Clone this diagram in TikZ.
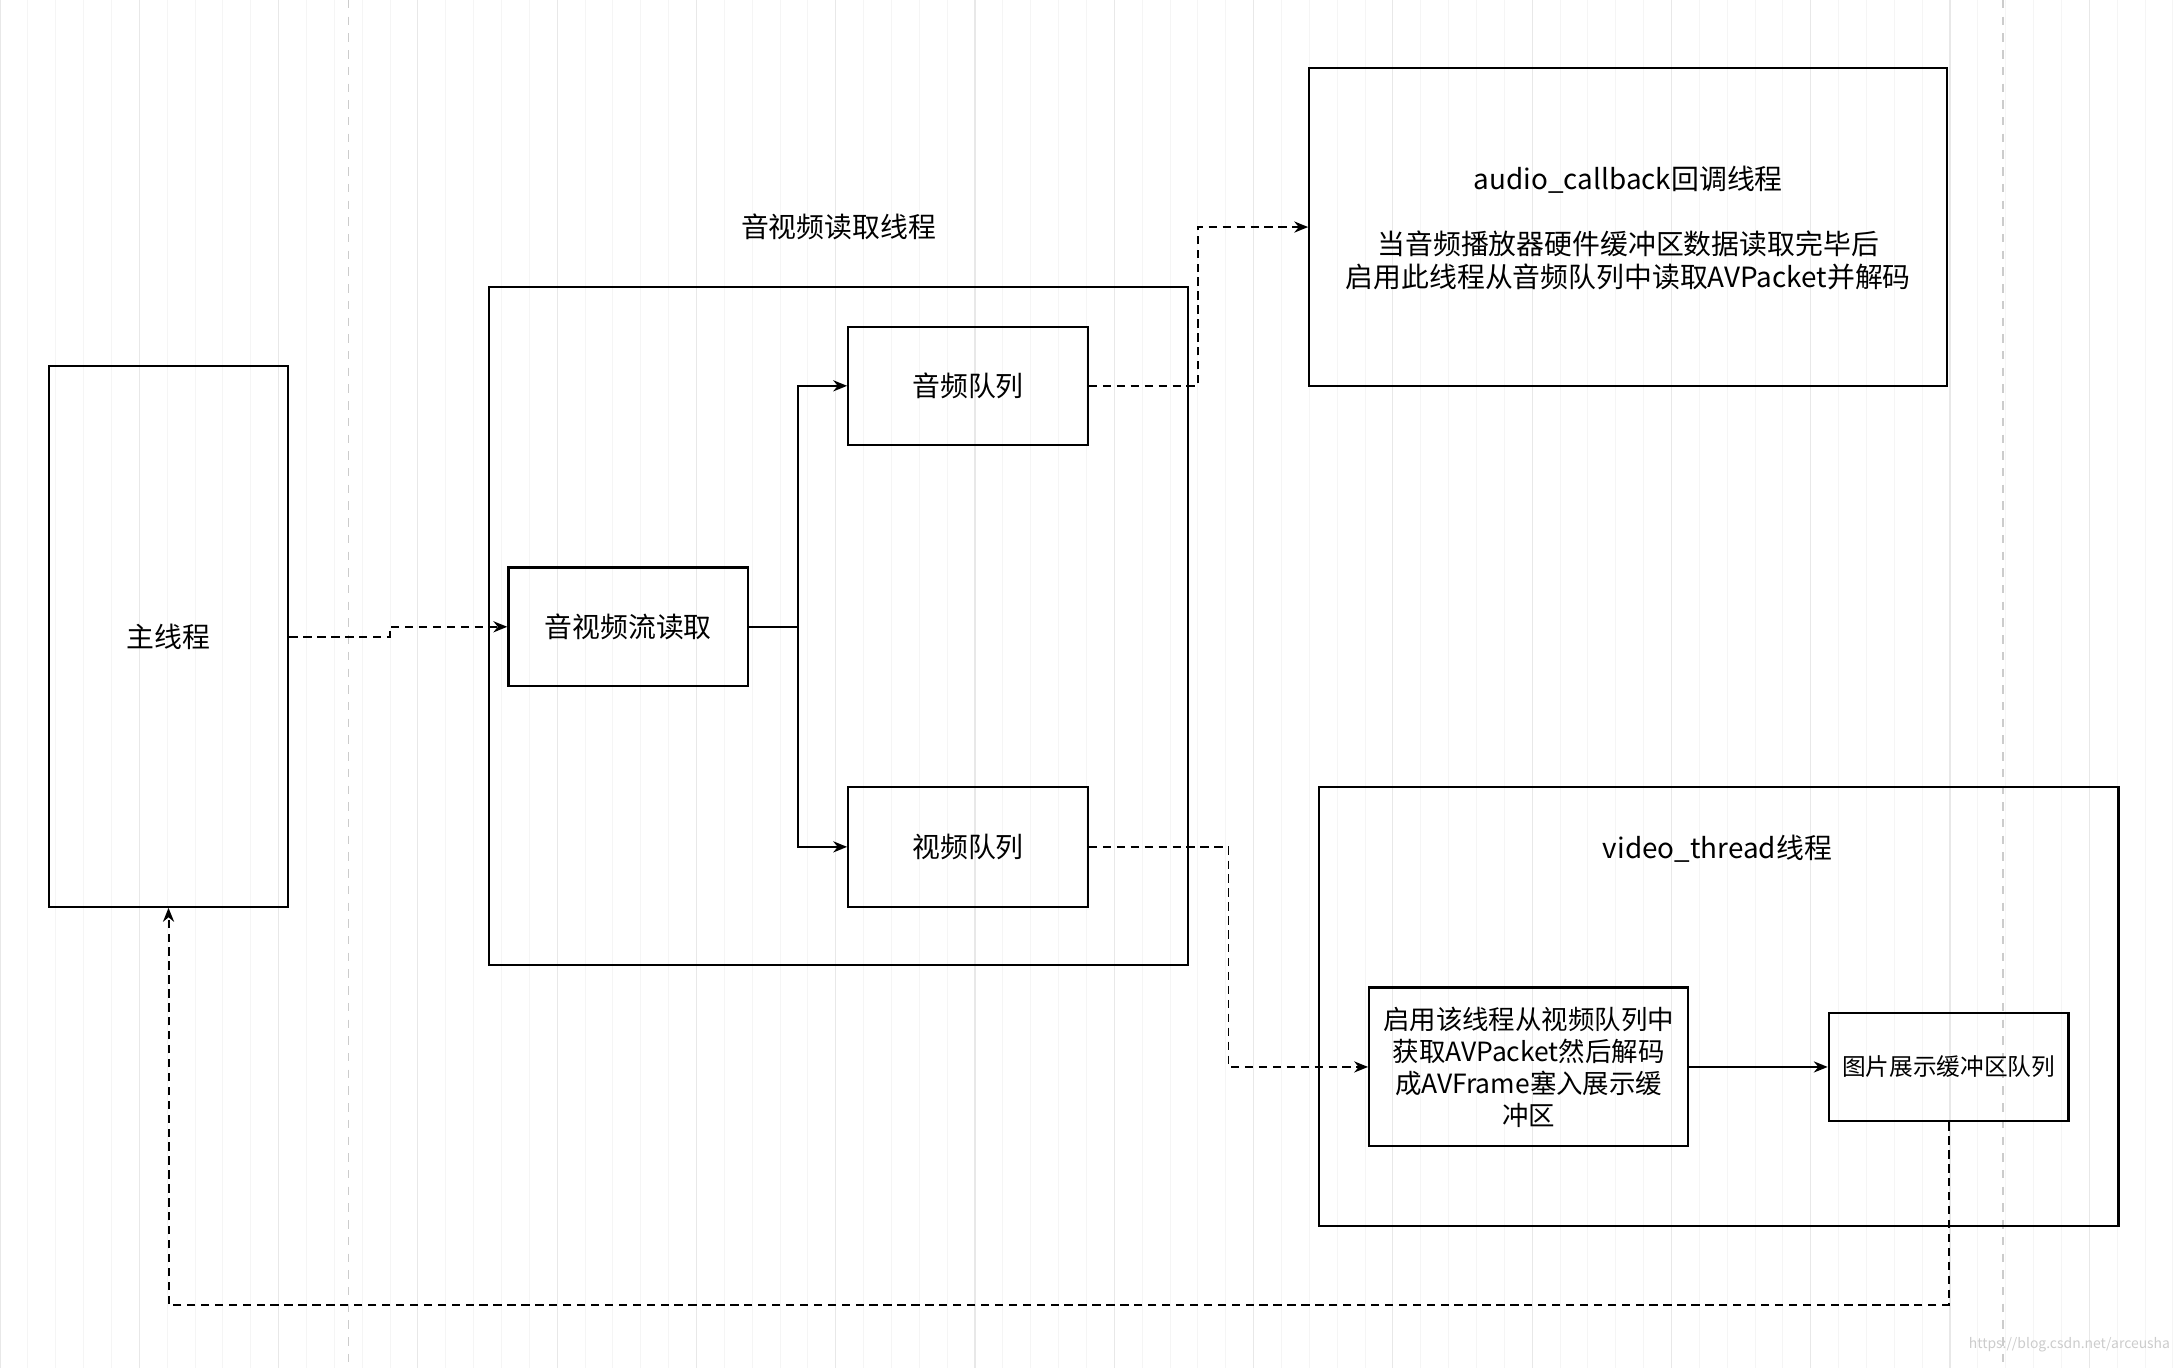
\documentclass[tikz,border=0pt]{standalone}
\usepackage{fontspec}
\setmainfont{Noto Sans CJK SC}
\usetikzlibrary{arrows.meta}
\begin{document}
\begin{tikzpicture}[x=0.5pt,y=-0.5pt,
  box/.style={draw,line width=0.8pt,inner sep=0pt},
  lbl/.style={font=\fontsize{10}{12}\selectfont,align=center},
  dconn/.style={densely dashed,line width=0.7pt,-{Stealth[length=5pt,width=4pt]}},
  sconn/.style={line width=0.7pt,-{Stealth[length=5pt,width=4pt]}}]
\useasboundingbox (0,0) rectangle (1568,982);
\fill[white] (0,0) rectangle (1568,982);
\draw[gray!8,line width=0.3pt] (0,0) grid[step=20] (1568,982);
\draw[gray!18,line width=0.4pt] (0,0) grid[step=100] (1568,982);
\draw[gray!40,dashed,line width=0.4pt] (250,0)--(250,982) (1438,0)--(1438,982);
% nodes
\node[box,minimum width=86pt,minimum height=194pt,lbl] (main) at (121,457) {主线程};
\draw[line width=0.8pt] (351,206) rectangle (853,693);
\node[lbl] (rt) at (602,163) {音视频读取线程};
\node[box,minimum width=86pt,minimum height=42.5pt,lbl] (rd) at (451,450) {音视频流读取};
\node[box,minimum width=86pt,minimum height=42.5pt,lbl] (aq) at (695,277) {音频队列};
\node[box,minimum width=86pt,minimum height=43pt,lbl] (vq) at (695,608) {视频队列};
\node[box,minimum width=229pt,minimum height=114pt,lbl] (ab) at (1169,163) {};
\node[lbl] (abt1) at (1169,129) {audio\_callback回调线程};
\node[lbl] (abt2) at (1169,187) {当音频播放器硬件缓冲区数据读取完毕后\\启用此线程从音频队列中读取AVPacket并解码};
\draw[line width=0.8pt] (947,565) rectangle (1521,880);
\node[lbl] (vt) at (1233,609) {video\_thread线程};
\node[box,minimum width=114.5pt,minimum height=57pt,lbl,font=\fontsize{9.5}{11.5}\selectfont] (dec) at (1097.5,766) {启用该线程从视频队列中\\获取AVPacket然后解码\\成AVFrame塞入展示缓\\冲区};
\node[box,minimum width=86pt,minimum height=39pt,lbl,font=\fontsize{8.5}{10}\selectfont] (iq) at (1399,766) {图片展示缓冲区队列};
\node[gray!40,font=\fontsize{5}{6}\selectfont,anchor=south east] (wm) at (1565,978) {https://blog.csdn.net/arceusha};
% connectors
\draw[dconn] (main.east |- 0,457) -- (280,457) -- (280,450) -- (rd.west);
\draw[sconn] (rd.east) -- (573,450) -- (573,277) -- (aq.west);
\draw[sconn] (rd.east) -- (573,450) -- (573,608) -- (vq.west);
\draw[dconn] (aq.east) -- (860,277) -- (860,163) -- (ab.west);
\draw[dconn] (vq.east) -- (882,608) -- (882,766) -- (dec.west);
\draw[sconn] (dec.east) -- (iq.west);
\draw[dconn] (iq.south) -- (1399,937) -- (121,937) -- (main.south);
\end{tikzpicture}
\end{document}
